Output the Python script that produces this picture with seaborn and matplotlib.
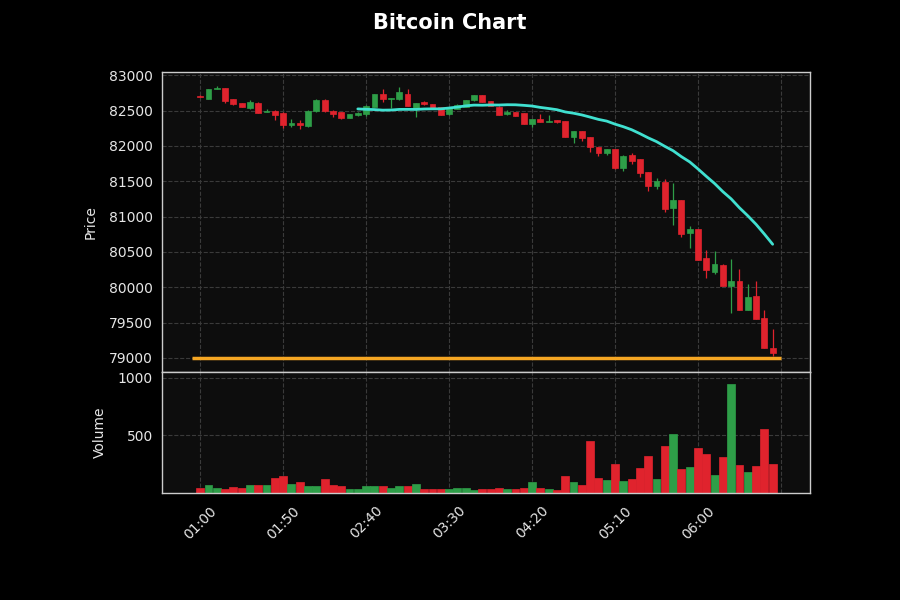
import numpy as np
import pandas as pd
import matplotlib
matplotlib.use("Agg")
import matplotlib.pyplot as plt
import seaborn as sns

# 5-minute candles, 01:00 -> 06:45
times = pd.date_range("2025-01-01 01:00", periods=70, freq="5min")

opens = [82710, 82670, 82805, 82815, 82660, 82600, 82530, 82610, 82485, 82500,
         82470, 82300, 82325, 82280, 82490, 82655, 82500, 82475, 82395, 82440,
         82450, 82550, 82730, 82660, 82660, 82740, 82530, 82620, 82590, 82550,
         82445, 82525, 82555, 82645, 82715, 82630, 82555, 82445, 82480, 82460,
         82315, 82375, 82340, 82360, 82350, 82130, 82205, 82125, 81985, 81895,
         81950, 81680, 81870, 81810, 81625, 81430, 81495, 81115, 81235, 80760,
         80820, 80410, 80220, 80320, 80020, 80090, 79680, 79875, 79565, 79145]
highs = [82720, 82810, 82845, 82820, 82665, 82610, 82650, 82615, 82520, 82510,
         82480, 82375, 82370, 82505, 82660, 82660, 82505, 82480, 82450, 82480,
         82575, 82740, 82800, 82680, 82835, 82800, 82605, 82640, 82595, 82555,
         82545, 82595, 82650, 82720, 82720, 82635, 82560, 82510, 82485, 82465,
         82380, 82450, 82435, 82370, 82355, 82210, 82210, 82130, 81990, 81955,
         81955, 81865, 81900, 81815, 81630, 81540, 81530, 81470, 81240, 80860,
         80825, 80525, 80510, 80325, 80400, 80260, 80040, 80090, 79680, 79410]
lows = [82685, 82665, 82800, 82610, 82585, 82545, 82525, 82460, 82475, 82365,
        82250, 82265, 82240, 82260, 82485, 82485, 82405, 82385, 82390, 82425,
        82425, 82545, 82625, 82535, 82655, 82560, 82410, 82575, 82535, 82430,
        82440, 82520, 82550, 82640, 82620, 82560, 82430, 82440, 82420, 82305,
        82270, 82335, 82335, 82330, 82125, 82035, 82065, 81915, 81860, 81870,
        81675, 81650, 81750, 81560, 81360, 81390, 81070, 80885, 80715, 80560,
        80380, 80125, 80185, 80015, 79630, 79675, 79675, 79545, 79135, 79020]
closes = [82690, 82800, 82825, 82640, 82590, 82555, 82615, 82470, 82500, 82440,
          82300, 82325, 82300, 82500, 82655, 82490, 82455, 82395, 82445, 82465,
          82570, 82735, 82660, 82675, 82765, 82565, 82600, 82595, 82540, 82435,
          82540, 82585, 82645, 82715, 82625, 82565, 82435, 82480, 82425, 82310,
          82375, 82340, 82355, 82335, 82130, 82205, 82115, 81980, 81895, 81950,
          81680, 81860, 81790, 81610, 81430, 81500, 81100, 81235, 80750, 80825,
          80385, 80245, 80330, 80020, 80085, 79680, 79865, 79550, 79140, 79070]
volumes = [49, 69, 49, 34, 55, 46, 75, 75, 75, 132,
           147, 83, 95, 66, 60, 121, 69, 60, 40, 40,
           60, 60, 60, 49, 66, 60, 83, 40, 34, 40,
           40, 49, 49, 26, 34, 40, 49, 40, 40, 49,
           95, 49, 40, 26, 147, 95, 75, 448, 132, 112,
           256, 103, 121, 221, 319, 126, 411, 509, 210, 227,
           391, 336, 155, 310, 945, 247, 184, 239, 560, 256]
support_level = 79000
sma_window = 20
tick_labels = ["01:00", "01:50", "02:40", "03:30", "04:20", "05:10", "06:00", ""]

df = pd.DataFrame({"time": times, "open": opens, "high": highs, "low": lows,
                   "close": closes, "volume": volumes})
df["idx"] = np.arange(len(df))
df["sma"] = df["close"].rolling(sma_window).mean()
df["up"] = df["close"] >= df["open"]

up_color = "#2e9e48"
down_color = "#e0232d"
colors = np.where(df["up"], up_color, down_color)

sns.set_theme(style="dark", rc={
    "figure.facecolor": "black",
    "axes.facecolor": "#0d0d0d",
    "axes.edgecolor": "#cccccc",
    "axes.labelcolor": "#e6e6e6",
    "axes.labelsize": 10,
    "xtick.labelsize": 10,
    "ytick.labelsize": 10,
    "xtick.color": "#e6e6e6",
    "ytick.color": "#e6e6e6",
    "text.color": "white",
    "grid.color": "#3a3a3a",
    "grid.linestyle": "--",
    "axes.grid": True,
})
plt.rcParams["font.family"] = ["DejaVu Sans"]

fig = plt.figure(figsize=(9, 6), dpi=100)
ax = fig.add_axes([0.18, 0.38, 0.72, 0.50])
axv = fig.add_axes([0.18, 0.178, 0.72, 0.202], sharex=ax)

# candles
ax.vlines(df["idx"], df["low"], df["high"], colors=colors, linewidth=0.9, zorder=2)
body_low = df[["open", "close"]].min(axis=1)
body_h = (df["close"] - df["open"]).abs().clip(lower=8)
ax.bar(df["idx"], body_h, bottom=body_low, width=0.7, color=colors,
       edgecolor=colors, linewidth=0.5, zorder=3)

# moving average and support line
sns.lineplot(data=df, x="idx", y="sma", ax=ax, color="#40e0d0", linewidth=2, zorder=4)
ax.hlines(support_level, df["idx"].iloc[0] - 1, df["idx"].iloc[-1] + 1,
          colors="#f5a623", linewidth=2.5, zorder=4)

ax.set_ylim(78800, 83045)
ax.set_yticks(np.arange(79000, 83001, 500))
ax.set_ylabel("Price", labelpad=8)
ax.set_xlabel("")
ax.grid(True, linestyle="--", color="#3a3a3a", linewidth=0.8)
ax.tick_params(axis="x", labelbottom=False, length=0)
ax.tick_params(axis="y", length=3)

# volume
axv.bar(df["idx"], df["volume"], width=0.95, color=colors, edgecolor=colors, linewidth=0.5)
axv.set_ylim(0, 1050)
axv.set_yticks([500, 1000])
axv.set_ylabel("Volume", labelpad=8)
axv.grid(True, linestyle="--", color="#3a3a3a", linewidth=0.8)
axv.set_xlim(-4.6, 73.5)
axv.set_xticks(np.arange(0, 71, 10))
axv.set_xticklabels(tick_labels, rotation=45)
axv.tick_params(axis="x", length=4)
axv.tick_params(axis="y", length=3)

for a in (ax, axv):
    for s in a.spines.values():
        s.set_color("#cccccc")
        s.set_linewidth(1)

fig.suptitle("Bitcoin Chart", fontsize=15, fontweight="bold", color="white", y=0.978)
fig.savefig("out.png", dpi=100, facecolor="black")
